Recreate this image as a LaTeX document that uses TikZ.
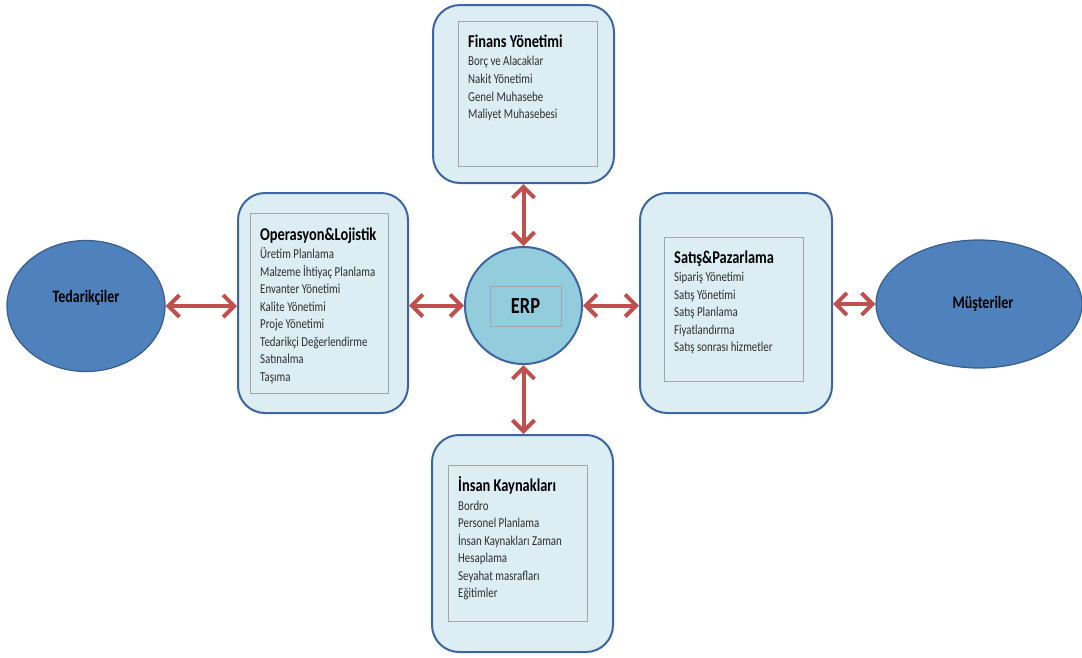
\documentclass[tikz,border=0pt]{standalone}
\usepackage{fontspec}
\setmainfont{Carlito}[FakeStretch=0.8]
\usetikzlibrary{arrows.meta,shapes.geometric}

\definecolor{boxfill}{HTML}{DCEEF4}
\definecolor{boxline}{HTML}{3C65A2}
\definecolor{innerline}{HTML}{A6A6A6}
\definecolor{erpfill}{HTML}{93CDDD}
\definecolor{partyfill}{HTML}{4F81BD}
\definecolor{partyline}{HTML}{385D8A}
\definecolor{linkred}{HTML}{C0504D}
\definecolor{itemtext}{HTML}{2E2E2E}

\tikzset{
  module/.style={draw=boxline, line width=2pt, fill=boxfill, rounded corners=27pt, inner sep=0pt},
  panel/.style={draw=innerline, line width=0.9pt, inner sep=0pt},
  heading/.style={font=\bfseries\fontsize{18}{20}\selectfont, text=black, anchor=base west, inner sep=0pt},
  entry/.style={font=\fontsize{13.6}{15}\selectfont, text=itemtext, anchor=base west, inner sep=0pt},
  party/.style={ellipse, draw=partyline, line width=1.2pt, fill=partyfill, inner sep=0pt},
  partylabel/.style={font=\bfseries\fontsize{17.5}{20}\selectfont, text=black, inner sep=0pt},
  hub/.style={circle, draw=boxline, line width=2pt, fill=erpfill, inner sep=0pt},
  flow/.style={draw=linkred, line width=4pt,
    {Straight Barb[length=11pt,width=22pt]}-{Straight Barb[length=11pt,width=22pt]}}
}

\begin{document}
\begin{tikzpicture}[x=1pt,y=-1pt]
\useasboundingbox (0,0) rectangle (1082,657);

% outer parties
\node[party, minimum width=158pt, minimum height=131pt] (ted) at (86,306) {};
\node[partylabel] (ted-t) at ([yshift=8pt]ted.center) {Tedarikçiler};
\node[party, minimum width=206pt, minimum height=128pt] (mus) at (979,304) {};
\node[partylabel] (mus-t) at ([xshift=4pt]mus.center) {Müşteriler};

% central ERP
\node[hub, minimum size=117pt] (erp) at (523.5,305.5) {};
\node[panel, minimum width=71pt, minimum height=40pt,
      font=\bfseries\fontsize{23}{24}\selectfont] (erp-p) at (525.5,306) {ERP};

% Finans Yönetimi
\node[module, minimum width=181pt, minimum height=178pt] (fin) at (523.5,94) {};
\node[panel, minimum width=139pt, minimum height=145pt] (fin-p) at (527.5,93.5) {};
\node[heading] (fin-t) at (468,47) {Finans Yönetimi};
\foreach \t [count=\i from 0] in {Borç ve Alacaklar, Nakit Yönetimi, Genel Muhasebe, Maliyet Muhasebesi}
  \node[entry] (fin-\i) at (468,{65.5+17.8*\i}) {\t};

% Operasyon & Lojistik
\node[module, minimum width=170pt, minimum height=220pt] (ops) at (323,303) {};
\node[panel, minimum width=138pt, minimum height=180pt] (ops-p) at (319,303) {};
\node[heading] (ops-t) at (260,240) {Operasyon\&Lojistik};
\foreach \t [count=\i from 0] in {Üretim Planlama, Malzeme İhtiyaç Planlama, Envanter Yönetimi, Kalite Yönetimi, Proje Yönetimi, Tedarikçi Değerlendirme, Satınalma, Taşıma}
  \node[entry] (ops-\i) at (260,{258.5+17.5*\i}) {\t};

% Satış & Pazarlama
\node[module, minimum width=192pt, minimum height=220pt] (sat) at (736,303) {};
\node[panel, minimum width=139pt, minimum height=144pt] (sat-p) at (733.5,309) {};
\node[heading] (sat-t) at (674,263) {Satış\&Pazarlama};
\foreach \t [count=\i from 0] in {Sipariş Yönetimi, Satış Yönetimi, Satış Planlama, Fiyatlandırma, Satış sonrası hizmetler}
  \node[entry] (sat-\i) at (674,{281.5+17.5*\i}) {\t};

% İnsan Kaynakları
\node[module, minimum width=181pt, minimum height=217pt] (ins) at (522.5,543.5) {};
\node[panel, minimum width=139pt, minimum height=156pt] (ins-p) at (517.5,543) {};
\node[heading] (ins-t) at (458,491.5) {İnsan Kaynakları};
\foreach \t [count=\i from 0] in {Bordro, Personel Planlama, İnsan Kaynakları Zaman, Hesaplama, Seyahat masrafları, Eğitimler}
  \node[entry] (ins-\i) at (458,{510+17.5*\i}) {\t};

% two-way links
\draw[flow] (ted.east) -- (ops.west |- ted.east);
\draw[flow] (ops.east |- erp.west) -- (erp.west);
\draw[flow] (erp.east) -- (sat.west |- erp.east);
\draw[flow] (sat.east |- mus.west) -- (mus.west);
\draw[flow] (fin.south -| erp.north) -- (erp.north);
\draw[flow] (erp.south) -- (ins.north -| erp.south);
\end{tikzpicture}
\end{document}
